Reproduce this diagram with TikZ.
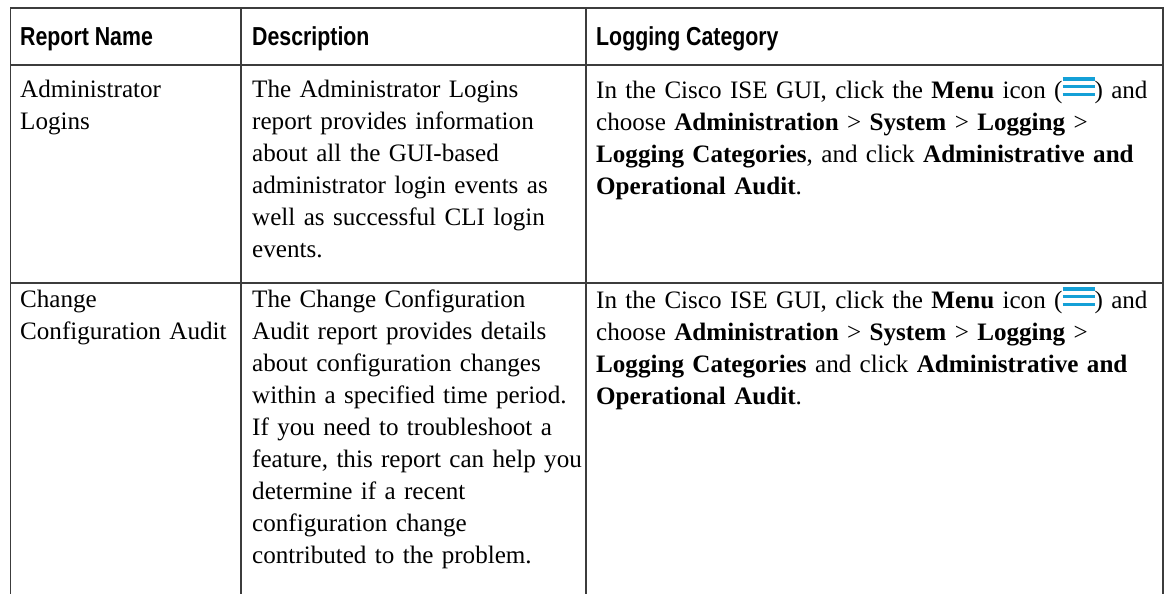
\documentclass[tikz,border=0pt]{standalone}
\usepackage{fontspec}
\setmainfont{Liberation Serif}
\newfontfamily\hdrfont[FakeStretch=0.82]{Liberation Sans}
\definecolor{ciscoblue}{RGB}{20,160,215}
\definecolor{rulegray}{RGB}{60,60,60}
\newcommand\menuicon{{\color{ciscoblue}\hbox{\rlap{\rule[2.5pt]{32pt}{3.6pt}}\rlap{\rule[10.5pt]{32pt}{3.6pt}}\rule[18pt]{32pt}{3.6pt}}}}
\newcommand\fstrut{\rule{0pt}{20pt}}
\begin{document}
\begin{tikzpicture}[x=1pt,y=-1pt,
  tline/.style={line width=1.6pt, draw=rulegray},
  hdr/.style={anchor=base west, inner sep=0pt, font=\hdrfont\bfseries\fontsize{26}{30}\selectfont},
  cell/.style={anchor=north west, inner sep=0pt, align=left, text width=600pt, font=\fontsize{25.1}{32}\selectfont}]
\useasboundingbox (0,0) rectangle (1171,594);
% grid
\coordinate (tl) at (10.5,8);
\coordinate (tr) at (1163,8);
\draw[tline] (10.5,594) -- (tl) -- (tr) -- (1163,594);
\draw[tline] (240.7,8) -- (240.7,594);
\draw[tline] (586,8) -- (586,594);
\draw[tline] (10.5,65) -- (1163,65);
\draw[tline] (10.5,283) -- (1163,283);
% header
\node[hdr] (h1) at (20,46) {Report Name};
\node[hdr] (h2) at (252,46) {Description};
\node[hdr] (h3) at (596,46) {Logging Category};
% row 1
\node[cell] (r1c1) at (20,77) {\fstrut Administrator\\Logins};
\node[cell] (r1c2) at (252,77) {\fstrut The Administrator Logins\\report provides information\\about all the GUI-based\\administrator login events as\\well as successful CLI login\\events.};
\node[cell] (r1c3) at (596,77) {\fstrut In the Cisco ISE GUI, click the \textbf{Menu} icon (\menuicon) and\\choose \textbf{Administration} > \textbf{System} > \textbf{Logging} >\\\textbf{Logging Categories}, and click \textbf{Administrative and}\\\textbf{Operational Audit}.};
% row 2
\node[cell] (r2c1) at (20,287) {\fstrut Change\\Configuration Audit};
\node[cell] (r2c2) at (252,287) {\fstrut The Change Configuration\\Audit report provides details\\about configuration changes\\within a specified time period.\\If you need to troubleshoot a\\feature, this report can help you\\determine if a recent\\configuration change\\contributed to the problem.};
\node[cell] (r2c3) at (596,287) {\fstrut In the Cisco ISE GUI, click the \textbf{Menu} icon (\menuicon) and\\choose \textbf{Administration} > \textbf{System} > \textbf{Logging} >\\\textbf{Logging Categories} and click \textbf{Administrative and}\\\textbf{Operational Audit}.};
\end{tikzpicture}
\end{document}
